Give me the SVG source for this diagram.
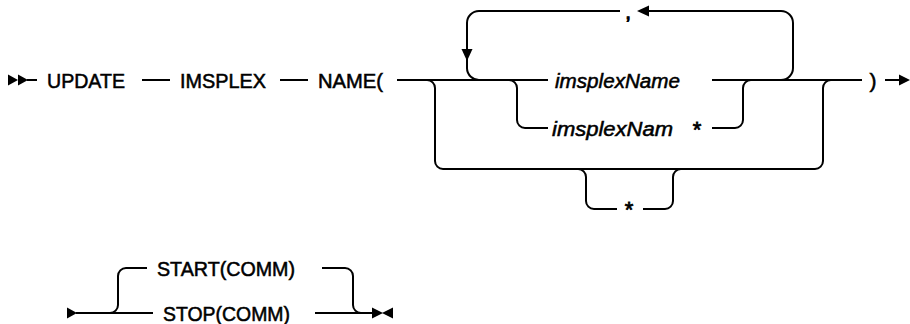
<svg xmlns="http://www.w3.org/2000/svg" width="910" height="324" viewBox="0 0 910 324">
<style>
.ln{fill:none;stroke:#000;stroke-width:2;stroke-linecap:butt;stroke-linejoin:round}
.ah{fill:#000;stroke:none}
text{font-family:"Liberation Sans",Arial,sans-serif;font-size:21px;fill:#000;stroke:#000;stroke-width:0.55}
.it{font-style:italic}
.sym{font-size:22px;stroke-width:0.8}
.cm{font-size:20.5px;stroke-width:1}
</style>
<rect width="910" height="324" fill="#fff"/>
<g id="connectors">
  <!-- start marker -->
  <polygon class="ah" points="8,74.5 18,80 8,85.5"/>
  <polygon class="ah" points="18,74.5 28,80 18,85.5"/>
  <path class="ln" d="M27,80 H37"/>
  <path class="ln" d="M142,80 H170"/>
  <path class="ln" d="M280,80 H308"/>
  <path class="ln" d="M397,80 H548"/>
  <path class="ln" d="M712,80 H862"/>
  <path class="ln" d="M885,80 H902"/>
  <polygon class="ah" points="899,74.5 910,80 899,85.5"/>
  <!-- repeat loop -->
  <path class="ln" d="M480,80 A12,12 0 0 1 467,68 V23 A12,12 0 0 1 479,11 H620"/>
  <path class="ln" d="M648,11 H781 A12,12 0 0 1 793,23 V68 A12,12 0 0 1 781,80"/>
  <polygon class="ah" points="637,11 649,5.5 649,16.5"/>
  <polygon class="ah" points="461.5,49 472.5,49 467,61"/>
  <!-- inner choice -->
  <path class="ln" d="M509,80 A8,8 0 0 1 517,88 V120 A8,8 0 0 0 525,128 H548"/>
  <path class="ln" d="M712,128 H735 A8,8 0 0 0 743,120 V88 A8,8 0 0 1 751,80"/>
  <!-- outer choice -->
  <path class="ln" d="M427,80 A8,8 0 0 1 435,88 V161 A8,8 0 0 0 443,169 H815 A8,8 0 0 0 823,161 V88 A8,8 0 0 1 831,80"/>
  <!-- star branch -->
  <path class="ln" d="M578,169 A8,8 0 0 1 586,177 V201 A8,8 0 0 0 594,209 H617"/>
  <path class="ln" d="M643,209 H665 A8,8 0 0 0 673,201 V177 A8,8 0 0 1 681,169"/>
  <!-- second diagram -->
  <polygon class="ah" points="67,307.5 77,313 67,318.5"/>
  <path class="ln" d="M76,313 H153"/>
  <path class="ln" d="M110,313 A8,8 0 0 0 118,305 V276 A8,8 0 0 1 126,268 H147"/>
  <path class="ln" d="M322,268 H345 A8,8 0 0 1 353,276 V305 A8,8 0 0 0 361,313"/>
  <path class="ln" d="M315,313 H373"/>
  <polygon class="ah" points="372,307.5 383,313 372,318.5"/>
  <polygon class="ah" points="393,307.5 382,313 393,318.5"/>
</g>
<g id="node-update"><text x="47" y="87.5" textLength="78" lengthAdjust="spacingAndGlyphs">UPDATE</text></g>
<g id="node-imsplex"><text x="180" y="87.5" textLength="86" lengthAdjust="spacingAndGlyphs">IMSPLEX</text></g>
<g id="node-name"><text x="318" y="87.5" textLength="65" lengthAdjust="spacingAndGlyphs">NAME(</text></g>
<g id="node-comma"><text class="cm" x="628" y="19" text-anchor="middle">,</text></g>
<g id="node-imsplexName"><text class="it" x="555" y="87.5" textLength="125" lengthAdjust="spacingAndGlyphs">imsplexName</text></g>
<g id="node-imsplexNam"><text class="it" x="552" y="135.5" textLength="121" lengthAdjust="spacingAndGlyphs">imsplexNam</text><text class="sym" x="697" y="137" text-anchor="middle">*</text></g>
<g id="node-star"><text class="sym" x="629" y="217" text-anchor="middle">*</text></g>
<g id="node-paren"><text x="873" y="87.5" text-anchor="middle">)</text></g>
<g id="node-start"><text x="157" y="275.5" textLength="138" lengthAdjust="spacingAndGlyphs">START(COMM)</text></g>
<g id="node-stop"><text x="163" y="320.5" textLength="127" lengthAdjust="spacingAndGlyphs">STOP(COMM)</text></g>
</svg>
